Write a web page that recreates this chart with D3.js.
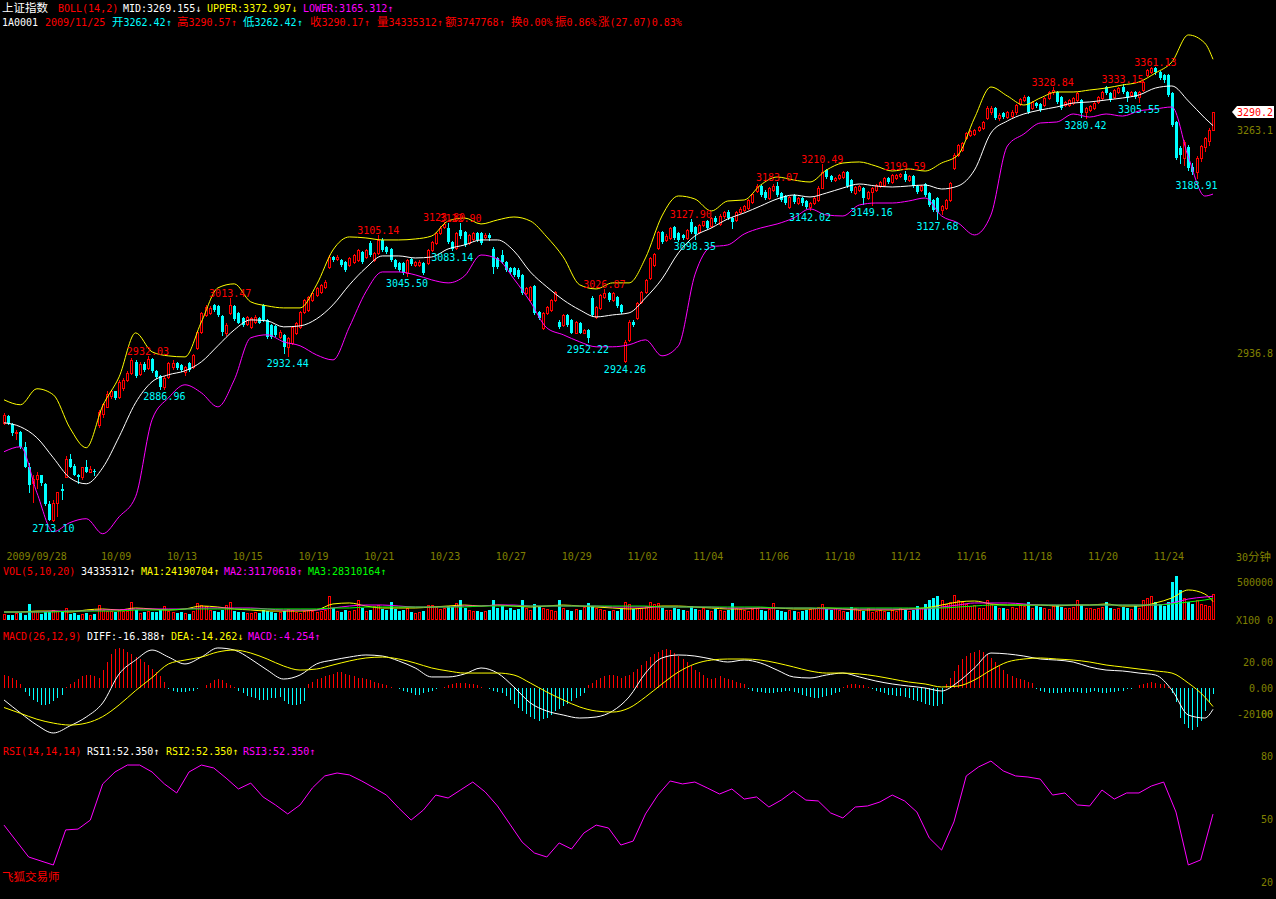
<!DOCTYPE html>
<html><head><meta charset="utf-8">
<script src="https://cdn.jsdelivr.net/npm/d3@7"></script>
<style>html,body{margin:0;padding:0;background:#000;overflow:hidden}svg{display:block}</style>
</head><body>
<svg id="c" width="1276" height="899"></svg>
<script>
// ---------------- DATA ----------------
const opens=[2842,2851,2840,2828,2830,2810,2783,2762,2768,2772,2761,2735,2714,2736,2755,2770,2794,2785,2773,2770,2783,2776,2778,2839,2853,2863,2878,2884,2877,2889,2900,2909,2925,2908,2922,2916,2929,2912,2905,2890,2904,2918,2923,2920,2910,2923,2918,2944,2966,2990,2993,3004,3003,2989,2965,2993,3003,2993,2986,2977,2973,2980,2986,3004,2983,2976,2975,2959,2962,2945,2951,2965,2973,2994,2997,3011,3018,3022,3030,3058,3073,3070,3069,3066,3061,3066,3069,3080,3073,3093,3069,3079,3098,3087,3084,3068,3064,3064,3050,3070,3061,3061,3064,3064,3083,3093,3108,3117,3115,3095,3086,3112,3109,3093,3099,3108,3108,3102,3105,3084,3071,3076,3066,3057,3057,3054,3047,3021,3011,3031,2994,2972,2993,2997,3011,2980,2976,2990,2983,2965,2979,2965,2969,3014,2987,3000,3015,3021,3011,3015,3004,2926,2955,2980,2986,3008,3023,3043,3061,3086,3109,3098,3100,3117,3108,3105,3100,3124,3117,3109,3120,3125,3118,3130,3121,3133,3139,3130,3127,3139,3142,3145,3153,3170,3177,3168,3159,3171,3177,3167,3162,3146,3164,3152,3159,3155,3146,3152,3156,3175,3201,3192,3186,3189,3191,3198,3186,3167,3171,3174,3159,3168,3171,3177,3179,3189,3183,3189,3192,3195,3186,3192,3177,3171,3180,3167,3156,3159,3142,3145,3156,3204,3224,3232,3250,3255,3256,3262,3265,3281,3290,3296,3281,3288,3282,3284,3290,3303,3309,3314,3296,3304,3303,3301,3312,3321,3321,3314,3301,3301,3304,3309,3309,3290,3293,3296,3306,3312,3329,3320,3314,3321,3329,3321,3317,3321,3314,3324,3348,3353,3359,3353,3348,3348,3320,3275,3235,3220,3236,3206,3198,3220,3236,3245,3262.42];
const highs=[2855,2852,2842,2832,2831,2816,2788,2773,2777,2773,2762,2739,2740,2751,2761,2797,2800,2787,2774,2783,2792,2785,2780,2859,2868,2884,2886,2885,2900,2902,2912,2930,2927,2925,2925,2932.03,2930,2914,2907,2905,2925,2927,2925,2922,2919,2925,2936,2968,2994,3004,3003,3005,3004,2990,2979,3013.47,3004,2994,2987,2989,2987,2990,2987,3005,2984,2977,2976,2969,2963,2959,2975,2980,2996,3013,3017,3023,3030,3034,3040,3076,3074,3076,3070,3067,3073,3077,3084,3082,3084,3096,3080,3105.14,3101,3089,3086,3070,3065,3065,3070,3071,3067,3068,3065,3084,3096,3109,3118,3123.8,3122,3096,3109,3122.9,3111,3106,3109,3109,3109,3108,3108,3087,3073,3083,3067,3058,3058,3057,3048,3030,3031,3033,2996,2994,3003,3013,3024,2983,2991,2991,2984,2981,2980,2970,2970,3017,3003,3020,3026.87,3023,3023,3017,3005,2955,2983,2983,3008,3024,3041,3073,3078,3111,3111,3106,3117,3118,3109,3106,3114,3127.9,3118,3121,3126,3127,3131,3133,3136,3140,3142,3131,3140,3146,3149,3158,3167,3180,3179,3171,3176,3180,3183.07,3168,3164,3162,3165,3161,3161,3156,3153,3161,3177,3210.49,3203,3194,3191,3195,3200,3200,3188,3177,3179,3176,3170,3176,3180,3185,3191,3191,3195,3195,3197,3199.59,3194,3194,3179,3179,3182,3168,3158,3161,3149,3158,3183,3227,3241,3244,3259,3262,3264,3269,3276,3300,3300,3298,3289,3290,3292,3293,3303,3312,3317,3315,3307,3306,3304,3314,3323,3328.84,3323,3315,3307,3311,3314,3321,3311,3298,3301,3306,3315,3323,3330,3321,3326,3329,3333.15,3323,3323,3323,3323,3338,3358,3360,3361.13,3354,3350,3350,3321,3276,3238,3247,3239,3212,3223,3240,3251,3265,3290.57];
const lows=[2840,2840,2826,2820,2808,2783,2750,2737,2756,2760,2734,2714,2713.1,2719,2742,2770,2783,2772,2762,2768,2776,2776,2773,2836,2850,2863,2875,2874,2875,2886,2898,2908,2904,2907,2912,2915,2911,2903,2887,2886.96,2903,2915,2915,2912,2907,2912,2916,2943,2965,2989,2991,2996,2989,2962,2962,2991,2983,2978,2975,2976,2972,2979,2978,2982,2958,2958,2960,2958,2937,2932.44,2949,2963,2972,2993,2996,3010,3017,3021,3028,3057,3067,3069,3060,3053,3060,3064,3067,3064,3071,3074,3067,3077,3082,3079,3067,3057,3053,3048,3045.5,3061,3060,3060,3048,3063,3082,3092,3106,3115,3093,3083.14,3085,3101,3089,3092,3098,3096,3092,3100,3098,3050,3057,3064,3053,3050,3045,3043,3020,3020,3010,2991,2984,2970,2991,2996,3010,2972,2975,2975,2964,2964,2964,2964,2952.22,2989,2986,2999,3014,3010,3010,3001,2993,2924.26,2954,2975,2984,3007,3021,3041,3060,3084,3093,3096,3099,3099,3096,3099,3099,3108,3098.35,3108,3118,3114,3117,3122,3119,3130,3128,3115,3125,3137,3140,3143,3152,3168,3162,3158,3158,3170,3162,3155,3150,3145,3152,3150,3149,3145,3142.02,3150,3155,3174,3189,3185,3185,3188,3189,3176,3168,3165,3170,3151,3158,3149.16,3170,3176,3177,3182,3182,3188,3191,3185,3185,3176,3167,3170,3162,3147,3140,3127.68,3136,3143,3155,3203,3223,3230,3249,3253,3255,3261,3264,3279,3287,3279,3278,3281,3281,3282,3287,3301,3307,3288,3295,3298,3292,3299,3311,3318,3304,3295,3299,3299,3303,3307,3283,3280.42,3292,3295,3304,3311,3318,3307,3312,3320,3320,3307,3315,3312,3305.55,3323,3346,3351,3350,3342,3337,3315,3269,3218,3212,3209,3201,3195,3188.91,3215,3230,3240,3262.42];
const closes=[2852,2842,2828,2830,2810,2783,2760,2768,2772,2762,2735,2714,2736,2751,2752,2794,2783,2773,2770,2783,2776,2780,2777,2856,2867,2880,2884,2875,2897,2900,2909,2927,2905,2922,2914,2929,2912,2904,2890,2902,2923,2923,2916,2914,2918,2914,2934,2966,2993,3001,3000,2997,2990,2966,2976,3004,2984,2979,2976,2987,2986,2987,2979,2983,2959,2959,2962,2966,2945,2958,2973,2979,2994,3011,3016,3021,3028,3033,3037,3073,3069,3073,3061,3054,3071,3076,3083,3066,3083,3076,3079,3098,3083,3080,3068,3058,3054,3050,3068,3063,3066,3066,3050,3083,3095,3108,3115,3121,3095,3085,3108,3103,3090,3105,3108,3098,3093,3105,3100,3058,3058,3066,3054,3051,3047,3044,3021,3028,3030,2993,2986,2993,3001,3011,3022,2973,2990,2976,2965,2980,2965,2969,2958,2990,3001,3018,3021,3011,3021,3003,2994,2952,2980,2976,3007,3023,3040,3071,3077,3109,3095,3103,3115,3100,3098,3100,3112,3109,3106,3120,3125,3115,3130,3124,3133,3139,3130,3124,3139,3143,3148,3156,3165,3177,3164,3159,3174,3177,3164,3156,3152,3161,3154,3159,3152,3146,3152,3159,3175,3198,3191,3186,3189,3194,3198,3177,3170,3176,3177,3159,3168,3174,3179,3183,3189,3183,3194,3194,3195,3186,3192,3177,3168,3177,3164,3149,3142,3139,3148,3156,3182,3224,3240,3242,3258,3261,3262,3267,3275,3296,3296,3281,3286,3282,3290,3290,3301,3311,3314,3290,3306,3299,3293,3312,3321,3324,3306,3296,3306,3309,3312,3320,3289,3296,3299,3304,3314,3321,3320,3309,3324,3327,3321,3312,3321,3314,3321,3337,3356,3359,3353,3343,3340,3317,3270,3220,3224,3244,3204,3198,3220,3238,3250,3262,3290.17];
// volume, millions of shares
const volumes=[7.9,6.6,6.6,9.2,9.2,6.6,21.1,11.8,11.8,7.9,10.5,10.5,13.2,11.8,10.5,15.8,7.9,9.2,6.6,7.9,9.2,6.6,7.9,19.7,13.2,11.8,11.8,10.5,13.2,11.8,11.8,23.7,13.2,9.2,10.5,11.8,10.5,10.5,13.2,18.4,11.8,10.5,9.2,10.5,9.2,7.9,11.8,22.4,19.7,18.4,13.2,11.8,10.5,13.2,19.7,23.7,11.8,10.5,10.5,9.2,9.2,10.5,9.2,13.2,11.8,10.5,9.2,10.5,11.8,14.5,13.2,10.5,9.2,11.8,13.2,11.8,10.5,11.8,13.2,31.6,15.8,11.8,10.5,13.2,11.8,13.2,26.3,15.8,11.8,13.2,18.4,19.7,14.5,13.2,23.7,14.5,11.8,13.2,15.8,10.5,9.2,10.5,11.8,19.7,19.7,17.1,14.5,15.8,18.4,17.1,22.4,26.3,15.8,13.2,11.8,11.8,10.5,11.8,13.2,26.3,15.8,18.4,13.2,15.8,13.2,14.5,26.3,15.8,13.2,21.1,18.4,15.8,14.5,13.2,11.8,26.3,15.8,13.2,11.8,14.5,13.2,17.1,22.4,18.4,15.8,14.5,13.2,11.8,13.2,11.8,15.8,23.7,21.1,14.5,15.8,15.8,18.4,23.7,21.1,22.4,15.8,13.2,13.2,15.8,14.5,13.2,11.8,18.4,14.5,13.2,15.8,13.2,11.8,14.5,13.2,11.8,13.2,22.4,15.8,14.5,13.2,11.8,14.5,15.8,13.2,11.8,14.5,22.4,13.2,11.8,10.5,13.2,11.8,10.5,11.8,13.2,14.5,15.8,17.1,21.1,14.5,13.2,15.8,13.2,11.8,10.5,17.1,15.8,13.2,11.8,15.8,10.5,11.8,13.2,11.8,10.5,13.2,11.8,15.8,13.2,11.8,13.2,18.4,15.8,21.1,26.3,29.0,31.6,26.3,21.1,23.7,32.9,26.3,23.7,21.1,18.4,19.7,15.8,15.8,26.3,21.1,18.4,15.8,15.8,14.5,17.1,15.8,19.7,18.4,23.7,15.8,18.4,17.1,15.8,14.5,18.4,19.7,17.1,15.8,15.8,17.1,26.3,19.7,15.8,15.8,14.5,15.8,17.1,23.7,15.8,14.5,15.8,17.1,15.8,14.5,18.4,15.8,26.3,29.0,31.6,23.7,21.1,18.4,23.7,50.0,57.9,39.5,29.0,23.7,21.1,26.3,21.1,19.7,18.4,34.335312];
// volume moving averages (millions), one reading every 4 bars, last = final bar
const volMA1=[10.5,10.5,11.8,11.8,10.5,13.2,14.5,13.2,15.8,14.5,13.2,14.5,18.4,17.1,14.5,13.2,11.8,11.8,11.8,13.2,21.1,22.4,18.4,15.8,15.8,15.8,17.1,18.4,19.7,18.4,19.7,18.4,17.1,18.4,19.7,18.4,17.1,15.8,14.5,15.8,18.4,18.4,17.1,15.8,14.5,14.5,15.8,15.8,14.5,14.5,15.8,14.5,13.2,13.2,13.2,14.5,15.8,19.7,23.7,25.0,21.1,19.7,19.7,19.7,18.4,19.7,19.7,21.1,18.4,18.4,22.4,29.0,39.5,34.2,24.190704];
const volMA2=[10.5,10.5,10.5,11.8,11.8,11.8,13.2,13.2,14.5,14.5,14.5,14.5,15.8,15.8,15.8,15.8,14.5,13.2,13.2,13.2,15.8,18.4,19.7,19.7,18.4,17.1,17.1,17.1,18.4,18.4,19.7,19.7,18.4,18.4,18.4,18.4,18.4,17.1,17.1,17.1,17.1,17.1,17.1,17.1,15.8,15.8,15.8,15.8,15.8,15.8,14.5,14.5,14.5,14.5,14.5,14.5,14.5,17.1,19.7,22.4,22.4,22.4,21.1,19.7,19.7,19.7,19.7,19.7,19.7,19.7,19.7,22.4,27.6,30.3,31.170618];
const volMA3=[10.5,10.5,10.5,10.5,11.8,11.8,11.8,11.8,13.2,13.2,13.2,14.5,14.5,14.5,14.5,14.5,14.5,14.5,14.5,14.5,15.8,15.8,17.1,17.1,17.1,17.1,17.1,17.1,17.1,18.4,18.4,18.4,18.4,18.4,18.4,18.4,18.4,18.4,18.4,18.4,17.1,17.1,17.1,17.1,17.1,17.1,17.1,15.8,15.8,15.8,15.8,15.8,15.8,15.8,15.8,15.8,15.8,15.8,17.1,18.4,19.7,19.7,19.7,19.7,19.7,19.7,19.7,19.7,19.7,19.7,19.7,21.1,23.7,26.3,28.310164];
// BOLL(14,2) readings every 4 bars, last = final bar
const bollUpper=[2872.7,2866,2887.7,2879.5,2835.1,2808.5,2864.6,2904,2964.8,2938.4,2932.8,2931.4,2980.2,3028.3,3034.1,3008.5,3002.8,2999.9,2999.9,3032.7,3083,3102,3100.5,3097.6,3097.6,3099,3103.4,3125.4,3129.8,3121,3126.9,3131.3,3125.4,3102,3072.8,3032.7,3026.9,3035.5,3035.5,3071.4,3132.8,3162.5,3158,3140.2,3155,3156.5,3178.9,3190.9,3186.4,3183.4,3201.4,3212,3213.6,3207.5,3199.9,3203,3199.9,3212,3224.2,3280.9,3329.2,3315.1,3301.1,3312,3321.4,3321.4,3324.5,3327.6,3332.4,3337.1,3351.3,3368.7,3411.9,3398.9,3372.997];
const bollMid=[2841.8,2836.4,2821.8,2795.2,2769,2761.2,2782.1,2823.1,2868.7,2897.2,2906.8,2912.2,2924.6,2946.8,2969,2983,2981.6,2973.2,2974.6,2984.4,3004.2,3032.7,3057,3074.3,3074.3,3071.4,3072.8,3084.5,3090.3,3097.6,3097.6,3081.6,3051.2,3029.8,3011.3,2997.1,2987.2,2990,2992.9,3014.1,3041.2,3078.7,3103.4,3115.1,3128.4,3137.3,3147.6,3158,3163.9,3161,3166.9,3174.4,3180.4,3177.4,3175.9,3177.4,3178.9,3172.9,3177.4,3201.4,3257.8,3276.3,3287.1,3293.3,3298,3304.2,3305.8,3308.9,3312,3316.7,3327.6,3330.8,3307.4,3280.9,3269.155];
const bollLower=[2803.2,2809.8,2749.5,2699.5,2711,2716.1,2696.9,2718.6,2744.4,2845.8,2875.4,2893.1,2882.2,2863.2,2899.9,2957.9,2962.1,2952.3,2946.8,2934.2,2927.3,2973.2,3022.7,3051.2,3051.2,3047,3039.8,3035.5,3045.5,3075.7,3070,3041.2,3008.5,2971.8,2962.1,2952.3,2945.4,2945.4,2948.2,2955.1,2932.9,2946.8,3047,3087.4,3090.3,3106.3,3115.1,3121,3129.8,3143.2,3134.3,3132.8,3149.1,3152,3152,3155,3159.5,3132.8,3122.5,3104.9,3134.3,3237.9,3256.2,3273.2,3274.7,3287.1,3282.4,3287.1,3283.9,3291.8,3294.9,3298,3221.2,3162.4,3165.312];
// MACD(26,12,9) line readings every 4 bars, histogram per bar
const macdDiff=[-9.2,-19.2,-28.5,-34.6,-29.2,-22.3,-11.5,10.8,21.5,29.2,23.8,18.5,23.8,30.8,29.2,22.3,13.8,6.9,10,18.5,21.5,23.8,25.4,24.6,20.8,15.4,8.5,8.5,10.8,15.4,11.5,0.8,-11.5,-17.7,-20.8,-23.1,-22.3,-17.7,-6.9,11.5,23.1,25.4,24.6,22.3,20,21.5,19.2,13.8,8.5,7.7,10,11.5,8.5,5.4,3.1,1.5,0,-2.3,4.6,15.4,26.9,26.2,24.6,22.3,21.5,20,16.2,13.8,13.1,11.5,10,-1.5,-20.8,-23.1,-16.388];
const macdDea=[-15,-19.5,-24,-27,-28.5,-27,-22,-13,-2,8,18.5,21.5,23.8,27.7,29.2,26.9,22.3,16.9,13.8,14.6,17.7,20.8,23.1,23.8,22.3,19.2,15.4,13.1,11.5,11.5,11.5,10,3.8,-3.1,-9.2,-14.6,-17.7,-18.5,-15.4,-6.9,3.1,12.3,18.5,21.5,22.3,22.3,21.5,19.2,16.2,13.1,11.5,11.5,10.8,9.2,6.9,4.6,3.1,0.8,1.5,6.2,13.8,20,22.3,23.1,22.3,21.5,20,17.7,16.2,14.6,13.1,11.5,3.8,-6.9,-14.262];
const macdHist=[10,9,8,6,3,-3,-6,-9,-11,-13,-13,-12,-10,-8,-5,1,3,5,7,9,10,10,9,8,14,20,26,30,31,30,28,26,24,22,20,18,15,12,9,5,-1,-2,-3,-3,-3,-2,-2,-1,0,2,4,6,7,6,4,2,1,-2,-4,-6,-7,-8,-9,-9,-9,-8,-8,-7,-10,-12,-13,-13,-12,-10,3,5,7,8,9,10,11,12,12,11,10,9,8,8,7,6,5,4,3,2,1,0,-1,-2,-3,-4,-5,-5,-4,-3,-2,-1,0,1,2,3,4,4,4,3,3,2,1,0,-1,-2,-3,-4,-6,-9,-12,-15,-18,-20,-22,-24,-25,-24,-23,-21,-18,-16,-14,-12,-10,-8,-6,-4,2,4,6,8,9,10,10,9,8,9,10,12,15,18,21,24,26,28,29,30,29,27,25,22,20,17,14,12,10,8,7,8,9,8,7,6,5,4,3,-1,-2,-3,-3,-4,-4,-4,-3,-3,-2,-2,-3,-4,-5,-6,-7,-8,-8,-7,-6,-5,-4,-3,1,2,3,3,2,2,1,-1,-2,-3,-4,-5,-5,-6,-6,-7,-8,-9,-10,-11,-12,-13,-14,-14,-12,3,8,13,18,22,25,27,28,29,28,26,23,20,17,14,11,9,8,7,6,5,4,-1,-2,-3,-4,-4,-4,-4,-3,-3,-3,-3,-4,-4,-3,-2,-3,-4,-4,-3,-3,-2,-2,-1,-1,0,2,3,4,5,4,3,3,1,-4,-11,-23,-28,-31,-32,-30,-25,-18,-11,-4.254];
// RSI(14) readings every 3 bars, last = final bar
const rsi=[47.1,39.5,31.9,30,28.1,44.8,45.2,49.5,66.7,72.4,75.7,75.7,72.4,66.7,62.4,72.4,75.7,74.3,69.5,64.3,67.1,60.5,56.7,52.4,56.7,64.8,70.5,71.9,71,68.1,64.8,61.4,55.2,49.5,54.3,61.4,60,63.8,67.6,62.9,56.2,47.6,39,33.8,31.9,38.6,35.7,43.3,47.1,45.7,37.6,39.5,52.4,61.4,68.1,66.7,67.6,64.8,61.9,64.3,59.5,60.5,55.7,59,63.3,59,58.6,52.9,50.5,55.7,56.2,58.1,61.4,58.6,53.3,41,35.2,48.6,70.5,74.8,77.6,72.9,70.5,70,69,61.4,62.4,56.7,56.2,63.8,59.5,62.4,62.4,65.7,67.6,53.3,28.1,30.5,52.35];
// date tick labels and the bar where each day starts
const dateLabels=["2009/09/28","10/09","10/13","10/15","10/19","10/21","10/23","10/27","10/29","11/02","11/04","11/06","11/10","11/12","11/16","11/18","11/20","11/24"];
const dateBars=[0,23,39,55,71,87,103,119,135,151,167,183,199,215,231,247,263,279];
const highMarkBars=[35,55,91,107,111,146,167,188,199,219,255,272,280];
const lowMarkBars=[12,39,69,98,109,142,151,168,196,211,227,263,276,290];
const priceTicks=[3263.1,2936.8];
const volTicks=[50e6,0];
const macdTicks=[20,0,-20];
const rsiTicks=[100,80,50,20];
const quote={code:"1A0001",name:"上证指数",date:"2009/11/25",amount:"3747768",turnover:"0.00%",amplitude:"0.86%",change:"(27.07)0.83%"};

// ---------------- DRAW ----------------
const RED="#ff0000",CYAN="#00ffff",YEL="#ffff00",MAG="#ff00ff",WHT="#ffffff",GRN="#00ff00",OLIVE="#808000";
const FONT='"DejaVu Sans Mono","Liberation Mono",monospace';
const svg=d3.select("#c");
svg.append("rect").attr("width",1276).attr("height",899).attr("fill","#000");
const N=closes.length;
const x=d3.scaleLinear().domain([0,N-1]).range([4,1213]);
const px=i=>Math.round(x(i));
const yP=d3.scaleLog().domain([2936.8,3290.2]).range([353,112]);
const yV=d3.scaleLinear().domain([0,50e6]).range([620,582]);
const yM=d3.scaleLinear().domain([-20,20]).range([714,662]);
const yR=d3.scaleLinear().domain([20,80]).range([882,756]);
const sIdx=(step)=>(k=>Math.min(k*step,N-1));
const smooth=d3.curveMonotoneX;

function addText(g,xx,yy,str,color,anchor){
  const t=g.append("text").attr("x",xx).attr("y",yy).attr("fill",color)
    .attr("font-family",FONT).attr("font-size",10).attr("text-anchor",anchor||"start");
  const re=/([\u3000-\u9fff\uff00-\uffef]+)/;
  str.split(re).filter(s=>s.length).forEach(s=>{
    const ts=t.append("tspan").text(s);
    if(re.test(s)) ts.attr("font-size",11.5).attr("font-family",'"Noto Sans CJK SC",sans-serif');
  });
  return t;
}

// candles
const cg=svg.append("g").attr("shape-rendering","crispEdges");
const idx=d3.range(N);
const up=i=>closes[i]>=opens[i];
cg.selectAll("line.w").data(idx).join("line")
  .attr("x1",i=>px(i)+0.5).attr("x2",i=>px(i)+0.5)
  .attr("y1",i=>yP(highs[i])).attr("y2",i=>yP(lows[i])+1)
  .attr("stroke",i=>up(i)?RED:CYAN).attr("stroke-width",1);
cg.selectAll("rect.b").data(idx).join("rect")
  .attr("x",i=>up(i)?px(i)-0.5:px(i)-1)
  .attr("y",i=>{const t=Math.round(yP(Math.max(opens[i],closes[i])));return up(i)?t+0.5:t;})
  .attr("width",i=>up(i)?2:3)
  .attr("height",i=>Math.max(1,Math.round(yP(Math.min(opens[i],closes[i])))-Math.round(yP(Math.max(opens[i],closes[i])))))
  .attr("fill",i=>up(i)?"#000":CYAN)
  .attr("stroke",i=>up(i)?RED:"none").attr("stroke-width",1);

// BOLL lines
const bi=sIdx(4);
[[bollUpper,YEL],[bollMid,WHT],[bollLower,MAG]].forEach(([arr,col])=>{
  svg.append("path").datum(arr).attr("fill","none").attr("stroke",col).attr("stroke-width",1)
    .attr("d",d3.line().curve(smooth).x((d,k)=>x(bi(k))).y(d=>yP(d)));
});

// high/low marks
const mg=svg.append("g");
highMarkBars.forEach(i=>addText(mg,x(i),yP(highs[i])-1,highs[i].toFixed(2),RED,"middle"));
lowMarkBars.forEach(i=>addText(mg,x(i),yP(lows[i])+11,lows[i].toFixed(2),CYAN,"middle"));

function styleAxis(a){
  a.select(".domain").remove();
  a.selectAll("text").attr("x",0).attr("dy","0.35em").attr("text-anchor","end").attr("fill",OLIVE)
    .attr("font-family",FONT).attr("font-size",10);
}
// price axis on right
styleAxis(svg.append("g").attr("transform","translate(1273,0)")
  .call(d3.axisRight(yP).tickValues(priceTicks).tickFormat(d=>d.toFixed(1)).tickSize(0)));
// last price marker
const lastY=Math.round(yP(closes[N-1]));
svg.append("polygon").attr("points",[[1232,lastY],[1237,lastY-6],[1274,lastY-6],[1274,lastY+6],[1237,lastY+6]].join(" ")).attr("fill",WHT);
addText(svg,1273,lastY+4,closes[N-1].toFixed(1),RED,"end");

// date axis
const da=svg.append("g").attr("transform","translate(0,560)")
  .call(d3.axisBottom(x).tickValues(dateBars).tickFormat((d,i)=>dateLabels[i]).tickSize(0));
da.select(".domain").remove();
da.selectAll("text").attr("y",0).attr("dy",0).attr("dx",2).attr("text-anchor","start").attr("fill",OLIVE)
  .attr("font-family",FONT).attr("font-size",10);
addText(svg,1236,561,"30分钟",OLIVE);

// volume
const vg=svg.append("g").attr("shape-rendering","crispEdges");
vg.selectAll("rect").data(idx).join("rect")
  .attr("x",i=>up(i)?px(i)-0.5:px(i)-1)
  .attr("y",i=>up(i)?Math.round(yV(volumes[i]*1e6))+0.5:Math.round(yV(volumes[i]*1e6)))
  .attr("width",i=>up(i)?2:3)
  .attr("height",i=>Math.max(1,620-Math.round(yV(volumes[i]*1e6))-(up(i)?1:0)))
  .attr("fill",i=>up(i)?"#000":CYAN)
  .attr("stroke",i=>up(i)?RED:"none");
[[volMA1,YEL],[volMA2,MAG],[volMA3,GRN]].forEach(([arr,col])=>{
  svg.append("path").datum(arr).attr("fill","none").attr("stroke",col).attr("stroke-width",1)
    .attr("d",d3.line().curve(smooth).x((d,k)=>x(bi(k))).y(d=>yV(d*1e6)));
});
styleAxis(svg.append("g").attr("transform","translate(1273,0)")
  .call(d3.axisRight(yV).tickValues(volTicks).tickFormat(d=>d===0?"0":String(d/100)).tickSize(0)));
addText(svg,1236,624,"X100",OLIVE);

// MACD
const hg=svg.append("g").attr("shape-rendering","crispEdges");
hg.selectAll("line").data(idx).join("line")
  .attr("x1",i=>px(i)+0.5).attr("x2",i=>px(i)+0.5)
  .attr("y1",yM(0)).attr("y2",i=>yM(macdHist[i]))
  .attr("stroke",i=>macdHist[i]>=0?RED:CYAN);
[[macdDiff,WHT],[macdDea,YEL]].forEach(([arr,col])=>{
  svg.append("path").datum(arr).attr("fill","none").attr("stroke",col).attr("stroke-width",1)
    .attr("d",d3.line().curve(smooth).x((d,k)=>x(bi(k))).y(d=>yM(d)));
});
styleAxis(svg.append("g").attr("transform","translate(1273,0)")
  .call(d3.axisRight(yM).tickValues(macdTicks).tickFormat(d=>d.toFixed(2)).tickSize(0)));

// RSI
const ri=sIdx(3);
svg.append("path").datum(rsi).attr("fill","none").attr("stroke",MAG).attr("stroke-width",1)
  .attr("d",d3.line().x((d,k)=>x(ri(k))).y(d=>yR(d)));
styleAxis(svg.append("g").attr("transform","translate(1273,0)")
  .call(d3.axisRight(yR).tickValues(rsiTicks).tickFormat(d=>String(d)).tickSize(0)));

// headers
const L=N-1;
const f2=v=>v.toFixed(2), f3=v=>v.toFixed(3);
const h1=[[quote.name,2,WHT],["BOLL(14,2)",58,RED],["MID:"+f3(bollMid[bollMid.length-1])+"↓",123,WHT],
  ["UPPER:"+f3(bollUpper[bollUpper.length-1])+"↓",207,YEL],["LOWER:"+f3(bollLower[bollLower.length-1])+"↑",303,MAG]];
h1.forEach(([s,xx,c])=>addText(svg,xx,12,s,c));
const h2=[[quote.code,2,WHT],[quote.date,45,RED],["开"+f2(opens[L])+"↑",112,CYAN],["高"+f2(highs[L])+"↑",177,RED],
  ["低"+f2(lows[L])+"↑",243,CYAN],["收"+f2(closes[L])+"↑",310,RED],["量"+Math.round(volumes[L]*1e6)+"↑",377,RED],
  ["额"+quote.amount+"↑",445,RED],["换"+quote.turnover,511,RED],["振"+quote.amplitude,555,RED],["涨"+quote.change,598,RED]];
h2.forEach(([s,xx,c])=>addText(svg,xx,26,s,c));
const hv=[["VOL(5,10,20)",3,RED],[Math.round(volumes[L]*1e6)+"↑",81,WHT],["MA1:"+Math.round(volMA1[volMA1.length-1]*1e6)+"↑",141,YEL],
  ["MA2:"+Math.round(volMA2[volMA2.length-1]*1e6)+"↑",224,MAG],["MA3:"+Math.round(volMA3[volMA3.length-1]*1e6)+"↑",308,GRN]];
hv.forEach(([s,xx,c])=>addText(svg,xx,575,s,c));
const hm=[["MACD(26,12,9)",3,RED],["DIFF:"+f3(macdDiff[macdDiff.length-1])+"↑",87,WHT],
  ["DEA:"+f3(macdDea[macdDea.length-1])+"↓",171,YEL],["MACD:"+f3(macdHist[L])+"↑",248,MAG]];
hm.forEach(([s,xx,c])=>addText(svg,xx,640,s,c));
const hr=[["RSI(14,14,14)",3,RED],["RSI1:"+f3(rsi[rsi.length-1])+"↑",87,WHT],["RSI2:"+f3(rsi[rsi.length-1])+"↑",166,YEL],["RSI3:"+f3(rsi[rsi.length-1])+"↑",243,MAG]];
hr.forEach(([s,xx,c])=>addText(svg,xx,755,s,c));
addText(svg,2,881,"飞狐交易师",RED);
</script>
</body></html>
